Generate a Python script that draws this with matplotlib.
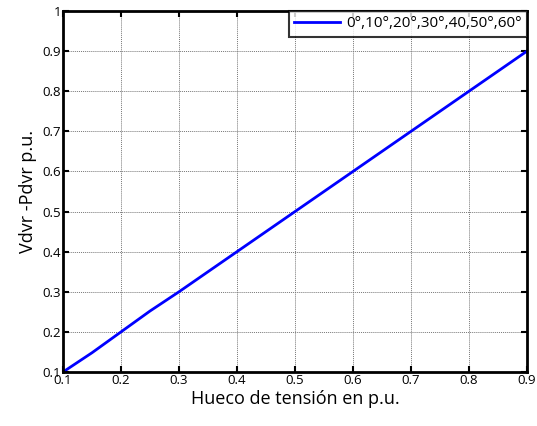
import matplotlib
matplotlib.use("Agg")
import matplotlib.pyplot as plt

x_vals = [0.10, 0.15, 0.20, 0.25, 0.30, 0.35, 0.40, 0.45, 0.50, 0.55, 0.60, 0.65, 0.70, 0.75, 0.80, 0.85, 0.90]
y_vals = [0.10, 0.148, 0.20, 0.252, 0.30, 0.35, 0.40, 0.45, 0.50, 0.55, 0.60, 0.65, 0.70, 0.75, 0.80, 0.85, 0.90]
legend_label = "0°,10°,20°,30°,40,50°,60°"
ticks = [0.1, 0.2, 0.3, 0.4, 0.5, 0.6, 0.7, 0.8, 0.9]
yticks = [0.1, 0.2, 0.3, 0.4, 0.5, 0.6, 0.7, 0.8, 0.9, 1.0]
ytick_labels = ["0.1", "0.2", "0.3", "0.4", "0.5", "0.6", "0.7", "0.8", "0.9", "1"]

plt.rcParams['font.family'] = ['Open Sans', 'DejaVu Sans']

fig = plt.figure(figsize=(5.37, 4.26), dpi=100)
ax = fig.add_axes([63/537, 1 - 372/426, (527 - 63)/537, (372 - 11)/426])

ax.plot(x_vals, y_vals, color='#0000ff', lw=2, label=legend_label)
ax.set_xlim(0.1, 0.9)
ax.set_ylim(0.1, 1.0)
ax.set_xticks(ticks)
ax.set_xticklabels([f"{t:.1f}" for t in ticks])
ax.set_yticks(yticks)
ax.set_yticklabels(ytick_labels)
ax.tick_params(direction='in', length=4, width=1.5, labelsize=9.5, pad=1.5,
               top=True, right=True)
ax.grid(True, color='#777777', linestyle=(0, (1, 1)), linewidth=0.7)
for s in ax.spines.values():
    s.set_linewidth(2)
ax.set_xlabel("Hueco de tensión en p.u.", fontsize=13, labelpad=2)
ax.set_ylabel("Vdvr -Pdvr p.u.", fontsize=13, labelpad=4)

leg = ax.legend(loc='upper right', fontsize=11, frameon=True, fancybox=False,
                borderaxespad=0, handlelength=3, borderpad=0.35, handletextpad=0.4)
leg.get_frame().set_edgecolor('black')
leg.get_frame().set_linewidth(1.5)

fig.savefig("out.png", dpi=100)
